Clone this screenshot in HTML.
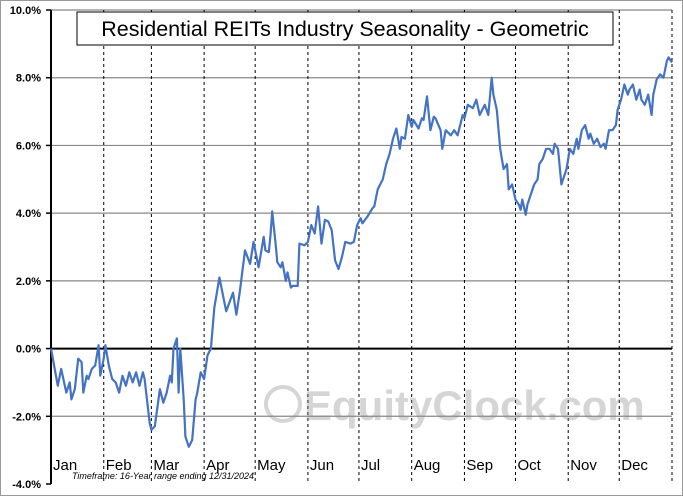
<!DOCTYPE html>
<html><head><meta charset="utf-8"><style>
body{margin:0;background:#fff;font-family:"Liberation Sans",sans-serif}
</style></head><body>
<svg id="chart" width="683" height="496" viewBox="0 0 683 496" xmlns="http://www.w3.org/2000/svg" font-family="Liberation Sans, sans-serif">
<rect x="0.5" y="0.5" width="682" height="495" fill="#fff" stroke="#999"/>
<g id="grid"></g>
<g id="watermark" opacity="0.35">
<circle cx="283" cy="404" r="17" fill="none" stroke="#888" stroke-width="4"/>
<text x="304" y="420" font-size="42" font-weight="bold" fill="#888">EquityClock.com</text>
</g>
<g id="axes"></g>
<path id="line" fill="none" stroke="#4472c4" stroke-width="2.2" stroke-linejoin="round"/>
<rect x="77" y="12" width="536" height="33" fill="#fff" stroke="#000"/>
<text x="345" y="36" text-anchor="middle" font-size="21.5">Residential REITs Industry Seasonality - Geometric</text>
<text x="72" y="479" font-size="9" font-style="italic">Timeframe: 16-Year range ending 12/31/2024</text>
</svg>
<script>
const days=[0,4,6,9,11,12,14,16,18,19,21,22,24,26,28,29,31,32,34,36,38,40,42,44,46,48,50,52,54,55,58,59,61,64,66,68,70,71,72,74,75,76,78,79,81,83,85,86,88,90,92,94,96,99,103,107,109,111,114,117,119,122,125,126,128,129,130,132,133,135,136,138,139,141,142,145,146,149,151,153,155,157,159,161,163,165,167,169,171,173,176,178,180,182,183,186,189,190,192,195,197,199,201,203,205,206,208,210,212,213,216,218,219,221,223,225,226,229,230,232,235,237,239,242,243,245,248,250,252,255,257,259,260,262,264,266,268,269,271,273,275,276,277,279,280,282,284,286,287,289,291,293,295,296,298,300,302,303,305,307,309,310,312,314,316,317,319,321,323,325,326,328,330,332,333,335,337,339,340,342,344,346,347,349,351,353,354,356,358,360,362,363,365];
const values=[0,-1.1,-0.6,-1.3,-1.0,-1.5,-1.2,-0.3,-0.4,-1.3,-0.8,-0.9,-0.6,-0.5,0.1,-0.8,-0.3,0.1,-0.5,-0.9,-1.0,-1.3,-0.8,-1.1,-0.7,-1.0,-0.7,-1.1,-0.7,-0.9,-2.2,-2.4,-2.3,-1.2,-1.6,-1.3,-0.8,-1.0,0.0,0.3,-1.3,0.0,-1.5,-2.6,-2.9,-2.7,-1.5,-1.3,-0.7,-0.9,-0.2,0.0,1.2,2.1,1.1,1.65,1.0,1.7,2.9,2.5,3.15,2.4,3.3,2.9,2.85,3.35,4.05,3.1,2.55,2.4,2.55,2.0,2.25,1.8,1.85,1.85,3.1,3.05,3.15,3.65,3.4,4.2,3.1,3.8,3.75,3.5,2.6,2.35,2.7,3.15,3.1,3.15,3.65,3.85,3.7,3.9,4.15,4.2,4.7,5.0,5.45,5.75,6.2,6.5,5.9,6.25,6.2,6.9,6.55,6.75,6.5,6.8,6.75,7.45,6.45,6.85,6.8,6.45,5.9,6.45,6.3,6.45,6.3,6.9,6.8,7.2,7.1,7.35,6.9,7.2,6.9,8.0,7.5,7.05,5.9,5.3,5.45,4.7,4.85,4.4,4.25,4.1,4.4,3.95,4.25,4.55,4.85,5.0,5.45,5.6,5.9,5.9,5.75,6.05,5.9,4.85,5.15,5.3,5.9,5.75,6.2,5.9,6.45,6.6,6.2,6.35,6.05,6.2,5.95,6.05,5.9,6.45,6.45,6.6,7.05,7.35,7.8,7.5,7.65,7.8,7.35,7.65,7.35,7.2,7.5,6.9,7.5,7.95,8.1,8.0,8.5,8.6,8.45];
const yTicks=[-4,-2,0,2,4,6,8,10];
const months=["Jan","Feb","Mar","Apr","May","Jun","Jul","Aug","Sep","Oct","Nov","Dec"];
const monthStart=[0,31,59,90,120,151,181,212,243,273,304,334,365];
const NS="http://www.w3.org/2000/svg";
const X0=51,X1=672,Y0=484,Y1=10;
const xs=d=>X0+(X1-X0)*d/365;
const ys=v=>Y0-(Y0-Y1)*(v+4)/14;
const grid=document.getElementById('grid'),axes=document.getElementById('axes');
function mk(tag,attrs,parent){const e=document.createElementNS(NS,tag);for(const k in attrs)e.setAttribute(k,attrs[k]);parent.appendChild(e);return e;}
yTicks.forEach(t=>{
  const y=ys(t);
  if(t!==0&&t!==-4){const l=mk('line',{x1:X0,x2:X1,y1:y,y2:y,stroke:'#888','stroke-width':1.2},grid);
  
  }
  const tx=mk('text',{x:41,y:y+4,'text-anchor':'end','font-size':11,'font-weight':'bold'},axes);
  tx.textContent=t.toFixed(1)+'%';
  
  
  const tk=mk('line',{x1:X0-5,x2:X0,y1:y,y2:y,stroke:'#000','stroke-width':1.5},axes);
  
  
});
monthStart.forEach((d,i)=>{
  if(i>0){const l=mk('line',{x1:xs(d),x2:xs(d),y1:Y1,y2:Y0,stroke:'#000','stroke-width':1,'stroke-dasharray':'3,3'},grid);
  
  }
  if(i<12){const tx=mk('text',{x:xs(d)+2,y:470,'font-size':15},axes);
  tx.textContent=months[i];
  
  }
});
const ya=mk('line',{x1:X0,x2:X0,y1:Y1,y2:Y0,stroke:'#000','stroke-width':2},axes);


const zl=mk('line',{x1:X0,x2:X1,y1:ys(0),y2:ys(0),stroke:'#000','stroke-width':2},axes);


document.getElementById('line').setAttribute('d',days.map((d,i)=>(i?'L':'M')+xs(d).toFixed(1)+','+ys(values[i]).toFixed(1)).join(''));
</script>
</body></html>
